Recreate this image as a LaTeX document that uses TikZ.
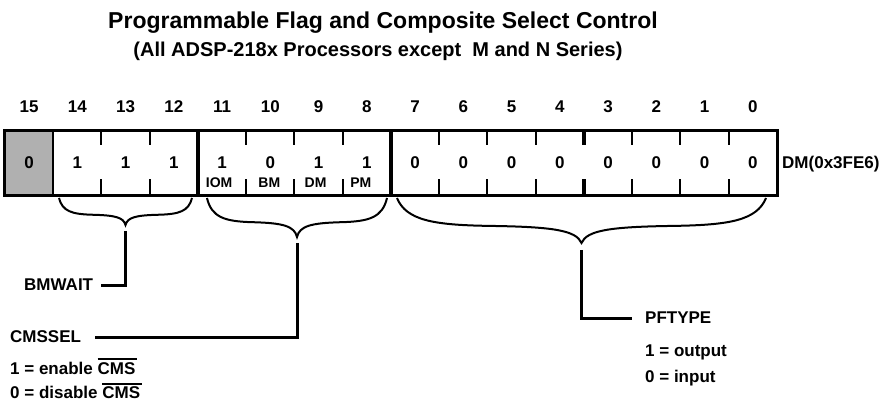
\documentclass[tikz,border=0pt]{standalone}
\usepackage{fontspec}
\setmainfont{Liberation Sans}
\usetikzlibrary{positioning,calc}
\definecolor{regshade}{HTML}{B0B0B0}

% curly brace under a bit field: name of tip, left x, right x, top y, depth
\newcommand{\regbrace}[5]{%
  \pgfmathsetmacro{\hw}{(#3-#2)/2}%
  \pgfmathsetmacro{\xm}{(#2+#3)/2}%
  \draw[brc] (#2,#4)
    .. controls ({#2+0.05*\hw},{#4+0.5*#5}) and ({#2+0.2*\hw},{#4+0.6*#5}) .. ({#2+0.5*\hw},{#4+0.62*#5})
    .. controls ({\xm-0.15*\hw},{#4+0.64*#5}) and ({\xm-0.03*\hw},{#4+0.72*#5}) .. ({\xm},{#4+#5}) coordinate (#1)
    .. controls ({\xm+0.03*\hw},{#4+0.72*#5}) and ({\xm+0.15*\hw},{#4+0.64*#5}) .. ({#3-0.5*\hw},{#4+0.62*#5})
    .. controls ({#3-0.2*\hw},{#4+0.6*#5}) and ({#3-0.05*\hw},{#4+0.5*#5}) .. (#3,#4);
}
% active-low signal name
\newcommand{\barred}[1]{\leavevmode\vbox{\hrule height 1.6pt\kern2.2pt\hbox{#1\kern2pt}}}

\begin{document}
\begin{tikzpicture}[x=1pt, y=-1pt, font=\bfseries\fontsize{17}{20}\selectfont,
  cell/.style={minimum width=48.25pt, minimum height=64pt, inner sep=0pt, anchor=center},
  bitnum/.style={inner sep=0pt, anchor=base},
  sub/.style={inner sep=0pt, anchor=base, font=\bfseries\fontsize{14}{16}\selectfont},
  lbl/.style={inner sep=0pt, anchor=base west},
  thin/.style={line width=2pt},
  heavy/.style={line width=4.5pt},
  lead/.style={line width=3pt},
  brc/.style={line width=2pt}]
  \useasboundingbox (0,0) rectangle (892,403);
  % titles
  \node[inner sep=0pt, anchor=base, font=\bfseries\fontsize{23}{26}\selectfont] (title) at (383,29) {Programmable Flag and Composite Select Control};
  \node[inner sep=0pt, anchor=base, font=\bfseries\fontsize{20}{23}\selectfont] (subtitle) at (378,57) {(All ADSP-218x Processors except\ \ M and N Series)};
  % register, bit 15 on the left
  \node[cell, fill=regshade] (b15) at (29.125,163) {0};
  \node[bitnum] (n15) at (29.125,113) {15};
  \foreach \b/\v in {14/1,13/1,12/1,11/1,10/0,9/1,8/1,7/0,6/0,5/0,4/0,3/0,2/0,1/0,0/0} {
    \node[cell] (b\b) at ({5+(15-\b)*48.25+24.125},163) {\v};
    \node[bitnum] (n\b) at ({5+(15-\b)*48.25+24.125},113) {\b};
  }
  % ticks between bits
  \foreach \b in {13,12,10,9,8,6,5,4,2,1,0} {
    \draw[thin] (b\b.north west) -- ++(0,14);
    \draw[thin] (b\b.south west) -- ++(0,-16);
  }
  \draw[heavy] (b3.north west) -- ++(0,14);
  \draw[heavy] (b3.south west) -- ++(0,-16);
  \draw[thin] (b14.north west) -- (b14.south west);
  \draw[heavy] (b11.north west) -- (b11.south west);
  \draw[heavy] (b7.north west) -- (b7.south west);
  \draw[line width=3pt] (b15.north west) rectangle (b0.south east);
  \node[sub] (iom) at ($(b11)+(-3,25)$) {IOM};
  \node[sub] (bm) at ($(b10)+(-1,25)$) {BM};
  \node[sub] (dm) at ($(b9)+(-3,25)$) {DM};
  \node[sub] (pm) at ($(b8)+(-6,25)$) {PM};
  \node[lbl] (dmaddr) at (782,169) {DM(0x3FE6)};
  % braces
  \regbrace{bmtip}{59}{192}{198}{27}
  \regbrace{cmstip}{207}{387}{198}{39}
  \regbrace{pftip}{397}{766}{198}{45}
  % field labels
  \node[lbl] (bmwait) at (24,291) {BMWAIT};
  \node[lbl] (cmssel) at (10,343) {CMSSEL};
  \node[lbl] (cmson) at (10,374) {1 = enable \barred{CMS}};
  \node[lbl] (cmsoff) at (10,399) {0 = disable \barred{CMS}};
  \node[lbl] (pftype) at (645,324) {PFTYPE};
  \node[lbl] (pfout) at (645,356) {1 = output};
  \node[lbl] (pfin) at (645,383) {0 = input};
  \draw[lead] ([yshift=-6pt]bmtip) |- ([xshift=8pt]bmwait.east);
  \draw[lead] ([yshift=-6pt]cmstip) |- ([xshift=14pt]cmssel.east);
  \draw[lead] ([yshift=-7pt]pftip) |- ([xshift=-13pt]pftype.west);
\end{tikzpicture}
\end{document}
